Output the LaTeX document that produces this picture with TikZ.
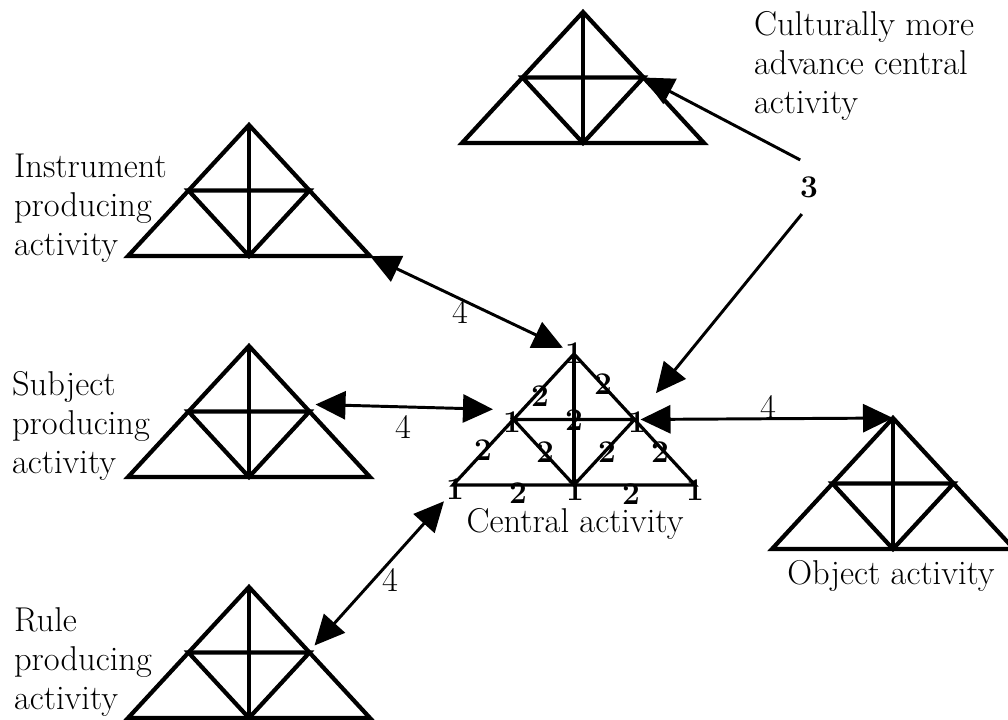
\documentclass[tikz,border=0pt]{standalone}
\usetikzlibrary{arrows.meta}

\newcommand{\figfont}{\fontsize{24.5}{27.7}\selectfont}
\newcommand{\numfont}{\fontsize{22.5}{27}\selectfont\bfseries}

\tikzset{
  pics/activity/.style={code={
    \coordinate (-a) at (0,0);
    \coordinate (-l) at (-121,131);
    \coordinate (-r) at (121,131);
    \coordinate (-b) at (0,131);
    \coordinate (-ml) at (-60.5,65.5);
    \coordinate (-mr) at (60.5,65.5);
    \draw (-l) -- (-a) -- (-r) -- cycle;
    \draw (-a) -- (-b);
    \draw (-ml) -- (-mr) -- (-b) -- cycle;
  }},
  twoway/.style={line width=2.1pt,
    {Triangle[length=0.75cm,width=0.7cm]}-{Triangle[length=0.75cm,width=0.7cm]}},
  oneway/.style={line width=2.1pt, -{Triangle[length=0.75cm,width=0.7cm]}},
  num/.style={font=\numfont, inner sep=0pt},
  lbl/.style={font=\figfont, inner sep=0pt},
  txt/.style={font=\figfont, inner sep=0pt, align=left, anchor=base west}
}

\begin{document}
\begin{tikzpicture}[x=0.025cm, y=-0.025cm, line width=3pt]
\useasboundingbox (0,0) rectangle (1008,719);

% activity triangles
\pic (cul) at (583,12) {activity};
\pic (ins) at (249,125) {activity};
\pic (sub) at (249,346) {activity};
\pic (rul) at (249,587) {activity};
\pic (obj) at (893,418) {activity};
\pic[line width=2.3pt] (cen) at (574,354) {activity};

% numbers on the central activity
\node[num] (one-a)  at (574,353) {1};
\node[num] (one-ml) at (512,422) {1};
\node[num] (one-mr) at (637,422) {1};
\node[num] (one-bl) at (455,489) {1};
\node[num] (one-bc) at (575,490) {1};
\node[num] (one-br) at (695,490) {1};
\node[num] (two-ul) at (540,396) {2};
\node[num] (two-ur) at (603,384) {2};
\node[num] (two-c)  at (574,420) {2};
\node[num] (two-lo) at (483,450) {2};
\node[num] (two-li) at (545,452) {2};
\node[num] (two-ri) at (607,452) {2};
\node[num] (two-ro) at (660,452) {2};
\node[num] (two-bl) at (518,493) {2};
\node[num] (two-br) at (631,494) {2};

% texts
\node[txt] (ins-txt) at (12,255) {Instrument\\producing\\activity};
\node[txt] (sub-txt) at (10,473) {Subject\\producing\\activity};
\node[txt] (rul-txt) at (12,709) {Rule\\producing\\activity};
\node[txt] (cul-txt) at (752,113) {Culturally more\\advance central\\activity};
\node[lbl, anchor=base] (cen-txt) at (575,532) {Central activity};
\node[lbl, anchor=base] (obj-txt) at (891,584) {Object activity};

% connections
\node[num, inner sep=0.36cm] (three) at (809,187) {3};
\draw[oneway] ([xshift=-0.22cm]three.north) -- (cul-mr);
\draw[oneway, shorten >=0.85cm] ([xshift=-0.18cm]three.south) -- (cen-mr);

\draw[twoway] (ins-r) -- (one-a);
\draw[twoway, shorten >=0.2cm] ([shift={(6,-7)}]sub-mr) -- (one-ml.north west);
\draw[twoway, shorten <=0.15cm] (cen-mr) -- (obj-a);
\draw[twoway] ([shift={(5,-7)}]rul-mr) -- (one-bl);

\node[lbl] (four-ins) at (460,312) {4};
\node[lbl] (four-sub) at (403,427) {4};
\node[lbl] (four-obj) at (768,407) {4};
\node[lbl] (four-rul) at (390,580) {4};
\end{tikzpicture}
\end{document}
